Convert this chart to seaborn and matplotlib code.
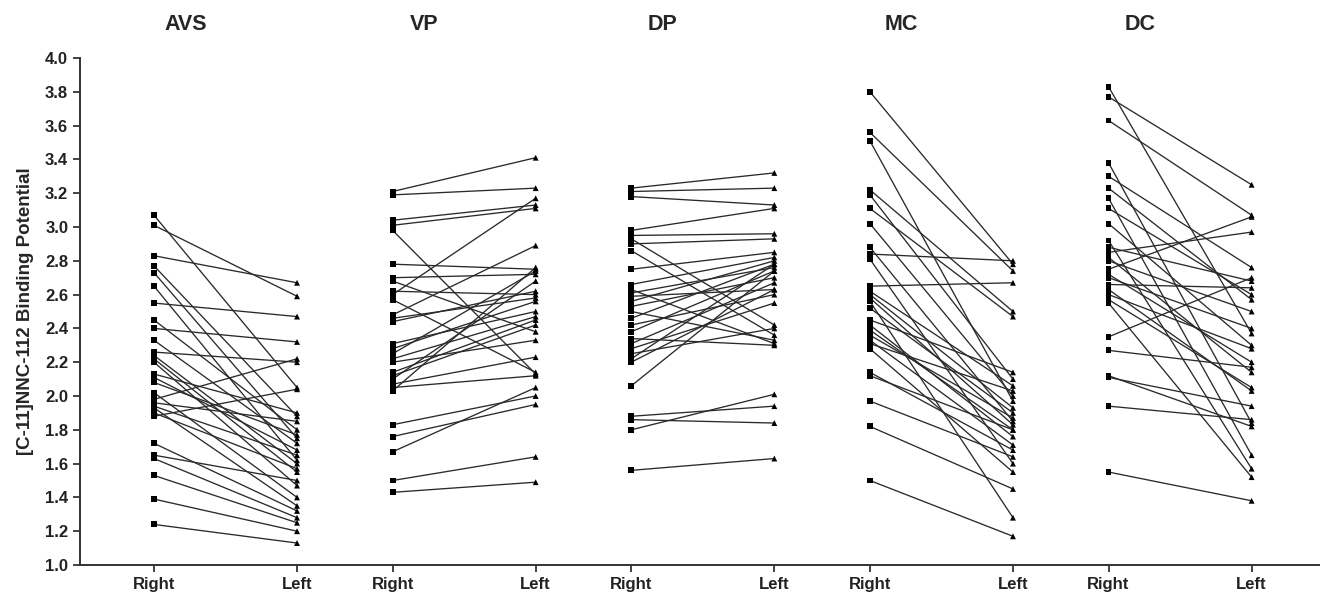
import matplotlib
matplotlib.use("Agg")
import matplotlib.pyplot as plt
import matplotlib.transforms as mtransforms
import pandas as pd
import seaborn as sns

REGIONS = ["AVS", "VP", "DP", "MC", "DC"]

AVS_RIGHT = [3.07, 3.01, 2.83, 2.77, 2.73, 2.65, 2.55, 2.45, 2.40, 2.33, 2.26, 2.24, 2.22, 2.20, 2.13,
             2.11, 2.08, 2.02, 1.98, 1.96, 1.94, 1.93, 1.90, 1.88, 1.72, 1.65, 1.63, 1.53, 1.39, 1.24]
AVS_LEFT = [2.05, 2.59, 2.67, 1.88, 1.75, 1.62, 2.47, 1.80, 2.32, 1.72, 2.20, 1.60, 1.55, 1.47, 1.90,
            1.68, 1.77, 1.40, 2.22, 1.85, 1.65, 1.35, 1.57, 2.04, 1.32, 1.50, 1.28, 1.25, 1.20, 1.13]

VP_RIGHT = [3.21, 3.19, 3.04, 3.01, 2.98, 2.78, 2.70, 2.68, 2.62, 2.60, 2.57, 2.48, 2.46, 2.44, 2.31,
            2.28, 2.25, 2.22, 2.20, 2.14, 2.12, 2.10, 2.07, 2.05, 2.03, 1.83, 1.76, 1.67, 1.50, 1.43]
VP_LEFT = [3.41, 3.23, 3.13, 3.11, 2.13, 2.75, 2.72, 2.38, 2.60, 3.17, 2.14, 2.89, 2.58, 2.62, 2.50,
           2.56, 2.74, 2.47, 2.33, 2.45, 2.42, 2.68, 2.23, 2.12, 2.76, 2.00, 1.95, 2.05, 1.64, 1.49]

DP_RIGHT = [3.23, 3.21, 3.18, 2.98, 2.95, 2.93, 2.90, 2.86, 2.75, 2.66, 2.63, 2.61, 2.59, 2.56, 2.53,
            2.50, 2.46, 2.42, 2.38, 2.34, 2.31, 2.28, 2.25, 2.22, 2.20, 2.06, 1.88, 1.86, 1.80, 1.56]
DP_LEFT = [3.32, 3.23, 3.13, 3.11, 2.96, 2.42, 2.93, 2.36, 2.85, 2.82, 2.31, 2.76, 2.63, 2.80, 2.70,
           2.33, 2.78, 2.60, 2.74, 2.30, 2.67, 2.55, 2.40, 2.78, 2.63, 2.74, 1.94, 1.84, 2.01, 1.63]

MC_RIGHT = [3.80, 3.56, 3.51, 3.22, 3.19, 3.11, 3.02, 2.88, 2.84, 2.81, 2.65, 2.62, 2.60, 2.58,
            2.56, 2.52, 2.45, 2.42, 2.39, 2.36, 2.33, 2.31, 2.28, 2.14, 2.12, 1.97, 1.82, 1.50]
MC_LEFT = [2.78, 2.74, 1.97, 2.50, 2.10, 2.47, 2.00, 1.85, 2.80, 1.60, 2.67, 2.06, 1.93, 1.83,
           1.28, 1.90, 2.14, 1.76, 1.80, 1.87, 1.71, 2.03, 1.55, 1.68, 1.80, 1.64, 1.45, 1.17]

DC_RIGHT = [3.83, 3.77, 3.63, 3.38, 3.30, 3.23, 3.17, 3.11, 3.02, 2.92, 2.88, 2.85, 2.82, 2.80,
            2.75, 2.72, 2.70, 2.66, 2.63, 2.60, 2.57, 2.55, 2.35, 2.27, 2.12, 2.11, 1.94, 1.55]
DC_LEFT = [2.37, 3.25, 3.07, 1.84, 2.76, 2.57, 1.65, 2.60, 2.30, 1.57, 2.68, 2.97, 2.14, 2.50,
           3.06, 2.20, 2.40, 2.64, 2.03, 2.28, 2.05, 1.52, 2.70, 2.17, 1.82, 1.94, 1.86, 1.38]

PAIRS = {
    "AVS": (AVS_RIGHT, AVS_LEFT),
    "VP": (VP_RIGHT, VP_LEFT),
    "DP": (DP_RIGHT, DP_LEFT),
    "MC": (MC_RIGHT, MC_LEFT),
    "DC": (DC_RIGHT, DC_LEFT),
}

GROUP_STEP = 1.668  # distance between region groups, in units of Right->Left gap


def build_long_frame() -> pd.DataFrame:
    rows = []
    for gi, region in enumerate(REGIONS):
        right, left = PAIRS[region]
        for si, (r, l) in enumerate(zip(right, left)):
            pid = f"{region}_{si}"
            rows.append({"region": region, "pid": pid, "side": "Right", "x": gi * GROUP_STEP, "value": r})
            rows.append({"region": region, "pid": pid, "side": "Left", "x": gi * GROUP_STEP + 1, "value": l})
    return pd.DataFrame(rows)


df = build_long_frame()

sns.set_theme(style="ticks")
plt.rcParams["font.family"] = ["Liberation Sans", "DejaVu Sans"]
plt.rcParams["font.weight"] = "bold"

fig = plt.figure(figsize=(13.2, 6.03), dpi=100)
ax = fig.add_axes([80 / 1320, 38 / 603, 1 - 80 / 1320, 507 / 603])

sns.lineplot(
    data=df, x="x", y="value", units="pid", estimator=None,
    color="#2a2a2a", linewidth=0.95, ax=ax, legend=False,
)
sns.scatterplot(
    data=df, x="x", y="value", style="side",
    markers={"Right": "s", "Left": "^"}, color="black",
    s=18, linewidth=0, ax=ax, legend=False, zorder=3,
)

ax.set_xlim(-0.517, 8.15)
ax.set_ylim(1.0, 4.0)
ax.set_yticks([1.0 + 0.2 * i for i in range(16)])
ax.set_yticklabels([f"{1.0 + 0.2 * i:.1f}" for i in range(16)])

xticks, xlabels = [], []
for gi, region in enumerate(REGIONS):
    xticks += [gi * GROUP_STEP, gi * GROUP_STEP + 1]
    xlabels += ["Right", "Left"]
ax.set_xticks(xticks)
ax.set_xticklabels(xlabels)

ax.tick_params(axis="both", labelsize=12, length=5, width=1.2, colors="#222222")
for lbl in ax.get_xticklabels() + ax.get_yticklabels():
    lbl.set_fontweight("bold")
for side in ["top", "right"]:
    ax.spines[side].set_visible(False)
for side in ["left", "bottom"]:
    ax.spines[side].set_linewidth(1.4)
    ax.spines[side].set_color("#333333")

ax.set_xlabel("")
ax.set_ylabel("[C-11]NNC-112 Binding Potential", fontsize=13.5, fontweight="bold", labelpad=8)

trans = mtransforms.blended_transform_factory(ax.transData, fig.transFigure)
for gi, region in enumerate(REGIONS):
    ax.text(gi * GROUP_STEP + 0.22, 1 - 24 / 603, region, transform=trans,
            ha="center", va="center", fontsize=15.5, fontweight="bold")

fig.savefig("out.png", dpi=100)
